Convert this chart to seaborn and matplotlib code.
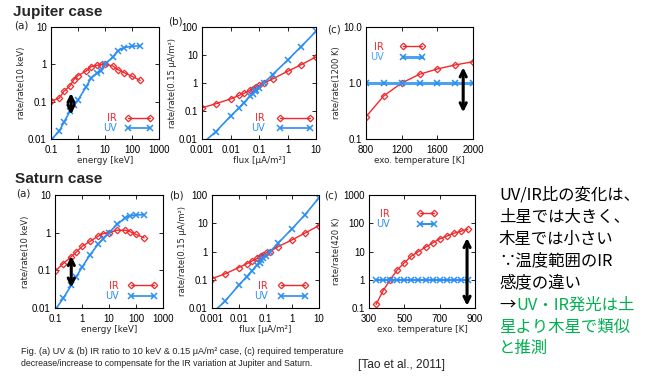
import matplotlib
matplotlib.use('Agg')
import matplotlib.pyplot as plt
import seaborn as sns
from matplotlib import font_manager as fm

# ---------------- data ----------------
jup_energy = [0.1, 0.2, 0.3, 0.5, 0.7, 1, 2, 3, 5, 7, 10, 20, 30, 50, 100, 200]
jup_ir_energy = [0.104, 0.123, 0.19, 0.26, 0.39, 0.5, 0.66, 0.86, 0.94, 0.98, 1.0, 0.9, 0.72, 0.6, 0.48, 0.37]
jup_uv_energy = [0.0095, 0.016, 0.028, 0.055, 0.08, 0.11, 0.25, 0.42, 0.58, 0.68, 1.0, 1.6, 2.3, 2.8, 3.05, 3.15]

sat_energy = [0.1, 0.2, 0.4, 0.6, 1, 2, 4, 6, 10, 20, 40, 60, 100, 200]
sat_ir_energy = [0.094, 0.15, 0.23, 0.30, 0.43, 0.59, 0.81, 0.94, 1.0, 1.16, 1.16, 1.06, 0.9, 0.73]
sat_uv_energy = [0.0088, 0.018, 0.04, 0.066, 0.12, 0.26, 0.5, 0.68, 1.0, 1.65, 2.5, 2.8, 2.95, 3.0]

flux = [0.001, 0.003, 0.01, 0.02, 0.03, 0.05, 0.06, 0.07, 0.08, 0.1, 0.15, 0.3, 1, 3, 10]
jup_ir_flux = [0.13, 0.18, 0.27, 0.36, 0.43, 0.55, 0.6, 0.66, 0.72, 0.82, 1.0, 1.4, 2.6, 4.5, 8.5]
jup_uv_flux = [0.0068, 0.018, 0.065, 0.13, 0.2, 0.35, 0.42, 0.5, 0.57, 0.68, 1.0, 2.0, 6.5, 20, 70]
sat_ir_flux = [0.11, 0.16, 0.27, 0.37, 0.45, 0.57, 0.64, 0.71, 0.75, 0.87, 1.0, 1.5, 2.6, 4.5, 8.3]
sat_uv_flux = [0.0065, 0.017, 0.064, 0.13, 0.2, 0.34, 0.4, 0.5, 0.57, 0.68, 1.0, 2.0, 6.5, 20, 80]

jup_temp = [800, 1000, 1200, 1400, 1600, 1800, 2000]
jup_ir_temp = [0.25, 0.59, 1.0, 1.43, 1.78, 2.1, 2.4]
jup_uv_temp = [1.0, 1.0, 1.0, 1.0, 1.0, 1.0, 1.0]

sat_temp = [340, 380, 420, 460, 500, 540, 580, 620, 660, 700, 740, 780, 820, 860]
sat_ir_temp = [0.134, 0.41, 1.0, 2.23, 4.0, 6.9, 10, 14.2, 20, 28, 35, 44, 52, 62]
sat_uv_temp = [1.0] * 14

energy_ticks = [0.1, 1, 10, 100, 1000]
energy_ticklabels = ['0.1', '1', '10', '100', '1000']
flux_ticks = [0.001, 0.01, 0.1, 1, 10]
flux_ticklabels = ['0.001', '0.01', '0.1', '1', '10']
ratio_ticks_a = [0.01, 0.1, 1, 10]
ratio_ticklabels_a = ['0.01', '0.1', '1', '10']
ratio_ticks_b = [0.01, 0.1, 1, 10, 100]
ratio_ticklabels_b = ['0.01', '0.1', '1', '10', '100']
jup_temp_ticks = [800, 1200, 1600, 2000]
jup_ratio_ticks_c = [0.1, 1, 10]
jup_ratio_ticklabels_c = ['0.1', '1.0', '10.0']
sat_temp_ticks = [300, 500, 700, 900]
sat_ratio_ticks_c = [0.1, 1, 10, 100, 1000]
sat_ratio_ticklabels_c = ['0.1', '1', '10', '100', '1000']

# ---------------- style ----------------
sns.set_theme(style='ticks')
plt.rcParams['font.family'] = ['DejaVu Sans']
names = {f.name for f in fm.fontManager.ttflist}
NARROW = 'Liberation Sans Narrow' if 'Liberation Sans Narrow' in names else 'Liberation Sans'
TICKFONT = 'Liberation Sans'
CJK = ['Noto Sans CJK JP', 'DejaVu Sans']

W, H = 654, 381
fig = plt.figure(figsize=(W / 100, H / 100), dpi=100)
fig.patch.set_facecolor('white')
renderer = fig.canvas.get_renderer()

RED = '#f2282a'
BLUE = '#2a8ef2'
GREEN = '#00b050'


def axbox(l, t, r, b):
    return fig.add_axes([l / W, 1 - b / H, (r - l) / W, (b - t) / H])


def draw_pair(ax, x, ir, uv, uv_lw=1.2, uv_color=BLUE):
    sns.lineplot(x=x, y=ir, ax=ax, color=RED, lw=1.0, marker='D', markersize=3.3,
                 markerfacecolor='none', markeredgecolor=RED, mew=0.9,
                 label='IR', sort=False, estimator=None)
    sns.lineplot(x=x, y=uv, ax=ax, color=uv_color, lw=uv_lw, marker='x', markersize=4,
                 mew=1.1, markeredgecolor=BLUE, label='UV', sort=False, estimator=None)


def style_axes(ax, xlog, xt, xtl, yt, ytl, xlim, ylim, xlabel, ylabel):
    if xlog:
        ax.set_xscale('log')
    ax.set_yscale('log')
    ax.set_xlim(*xlim)
    ax.set_ylim(*ylim)
    ax.set_xticks(xt)
    ax.set_xticklabels(xtl, fontfamily=TICKFONT)
    ax.set_yticks(yt)
    ax.set_yticklabels(ytl, fontfamily=TICKFONT)
    ax.minorticks_off()
    ax.tick_params(which='both', direction='in', top=True, right=True, length=3,
                   width=0.6, labelsize=7, colors='black')
    ax.tick_params(axis='x', pad=4)
    ax.tick_params(axis='y', pad=3)
    for s in ax.spines.values():
        s.set_linewidth(0.8)
        s.set_color('black')
    ax.set_xlabel(xlabel, fontsize=6.3, labelpad=1.0)
    ax.set_ylabel(ylabel, fontsize=6.0, labelpad=1.5)


def legend(ax, anchor, loc, hl, pad):
    h, l = ax.get_legend_handles_labels()
    ax.legend(h, l, loc=loc, bbox_to_anchor=anchor, markerfirst=False, numpoints=2,
              frameon=False, labelcolor='linecolor', handlelength=hl, handletextpad=pad,
              borderpad=0, borderaxespad=0, labelspacing=0.05, fontsize=7)


def arrow(ax, x, y0, y1):
    ax.annotate('', xy=(x, y1), xytext=(x, y0),
                arrowprops=dict(arrowstyle='<->', lw=2.2, color='black',
                                mutation_scale=11, shrinkA=0, shrinkB=0))


# ---------------- Jupiter ----------------
ax = axbox(51, 27, 159, 139)
draw_pair(ax, jup_energy, jup_ir_energy, jup_uv_energy)
style_axes(ax, True, energy_ticks, energy_ticklabels, ratio_ticks_a, ratio_ticklabels_a,
           (0.1, 1000), (0.01, 10), 'energy [keV]', 'rate/rate(10 keV)')
arrow(ax, 0.55, 0.045, 0.17)
legend(ax, (0.94, 0.05), 'lower right', 2.8, 0.9)

ax = axbox(202, 27, 316, 139)
draw_pair(ax, flux, jup_ir_flux, jup_uv_flux)
style_axes(ax, True, flux_ticks, flux_ticklabels, ratio_ticks_b, ratio_ticklabels_b,
           (0.001, 10), (0.01, 100), 'flux [μA/m²]', 'rate/rate(0.15 μA/m²)')
legend(ax, (0.97, 0.05), 'lower right', 3.6, 1.3)

ax = axbox(366, 27, 473, 139)
draw_pair(ax, jup_temp, jup_ir_temp, jup_uv_temp, uv_lw=2.2, uv_color='#4aa2f2')
style_axes(ax, False, jup_temp_ticks, [str(t) for t in jup_temp_ticks],
           jup_ratio_ticks_c, jup_ratio_ticklabels_c,
           (800, 2000), (0.1, 10), 'exo. temperature [K]', 'rate/rate(1200 K)')
arrow(ax, 1890, 0.30, 1.9)
legend(ax, (0.04, 0.87), 'upper left', 2.6, 1.6)

# ---------------- Saturn ----------------
ax = axbox(55, 195, 163, 308)
draw_pair(ax, sat_energy, sat_ir_energy, sat_uv_energy)
style_axes(ax, True, energy_ticks, energy_ticklabels, ratio_ticks_a, ratio_ticklabels_a,
           (0.1, 1000), (0.01, 10), 'energy [keV]', 'rate/rate(10 keV)')
arrow(ax, 0.4, 0.035, 0.24)
legend(ax, (0.94, 0.06), 'lower right', 2.9, 1.0)

ax = axbox(212, 195, 319, 308)
draw_pair(ax, flux, sat_ir_flux, sat_uv_flux)
style_axes(ax, True, flux_ticks, flux_ticklabels, ratio_ticks_b, ratio_ticklabels_b,
           (0.001, 10), (0.01, 100), 'flux [μA/m²]', 'rate/rate(0.15 μA/m²)')
legend(ax, (0.90, 0.06), 'lower right', 3.1, 1.1)

ax = axbox(369, 195, 475, 308)
draw_pair(ax, sat_temp, sat_ir_temp, sat_uv_temp, uv_lw=1.4)
style_axes(ax, False, sat_temp_ticks, [str(t) for t in sat_temp_ticks],
           sat_ratio_ticks_c, sat_ratio_ticklabels_c,
           (300, 900), (0.1, 1000), 'exo. temperature [K]', 'rate/rate(420 K)')
arrow(ax, 855, 0.12, 30)
legend(ax, (0.07, 0.88), 'upper left', 2.0, 2.8)

# ---------------- figure texts ----------------

def ftext(x, y, s, **kw):
    return fig.text(x / W, 1 - y / H, s, **kw)


def fit_text(x, y, s, width, **kw):
    t = ftext(x, y, s, ha='left', va='center', **kw)
    w = t.get_window_extent(renderer).width
    t.set_fontsize(t.get_fontsize() * width / w)
    return t


fit_text(13, 12, 'Jupiter case', 89, fontfamily=NARROW, fontweight='bold', fontsize=12)
fit_text(15, 179, 'Saturn case', 87, fontfamily=NARROW, fontweight='bold', fontsize=12)

for (x, y, s) in [(21, 25, '(a)'), (175, 22, '(b)'), (334, 29, '(c)'),
                  (23, 194, '(a)'), (176, 195, '(b)'), (331, 195, '(c)')]:
    ftext(x, y, s, ha='center', va='center', fontsize=7.5, color='#222222')

jp_lines = [
    (195, 'UV/IR比の変化は、', 'black'),
    (217, '土星では大きく、', 'black'),
    (239, '木星では小さい', 'black'),
    (261, '∵温度範囲のIR', 'black'),
    (283, '感度の違い', 'black'),
    (327, '星より木星で類似', GREEN),
    (348, 'と推測', GREEN),
]
JP_SIZE = 11.8
for y, s, c in jp_lines:
    ftext(499, y, s, ha='left', va='center', fontsize=JP_SIZE, color=c, family=CJK)
ftext(499, 305, '→', ha='left', va='center', fontsize=JP_SIZE, color='black', family=CJK)
ftext(516, 305, 'UV・IR発光は土', ha='left', va='center', fontsize=JP_SIZE, color=GREEN, family=CJK)

fit_text(21, 352, 'Fig. (a) UV & (b) IR ratio to 10 keV & 0.15 μA/m² case, (c) required temperature',
         322, fontfamily=NARROW, fontsize=7, color='#222222')
fit_text(21, 364, 'decrease/increase to compensate for the IR variation at Jupiter and Saturn.',
         293, fontfamily=NARROW, fontsize=7, color='#222222')
fit_text(358, 365, '[Tao et al., 2011]', 87, fontfamily=NARROW, fontsize=9, color='#222222')

fig.savefig('out.png', dpi=100, facecolor='white')
